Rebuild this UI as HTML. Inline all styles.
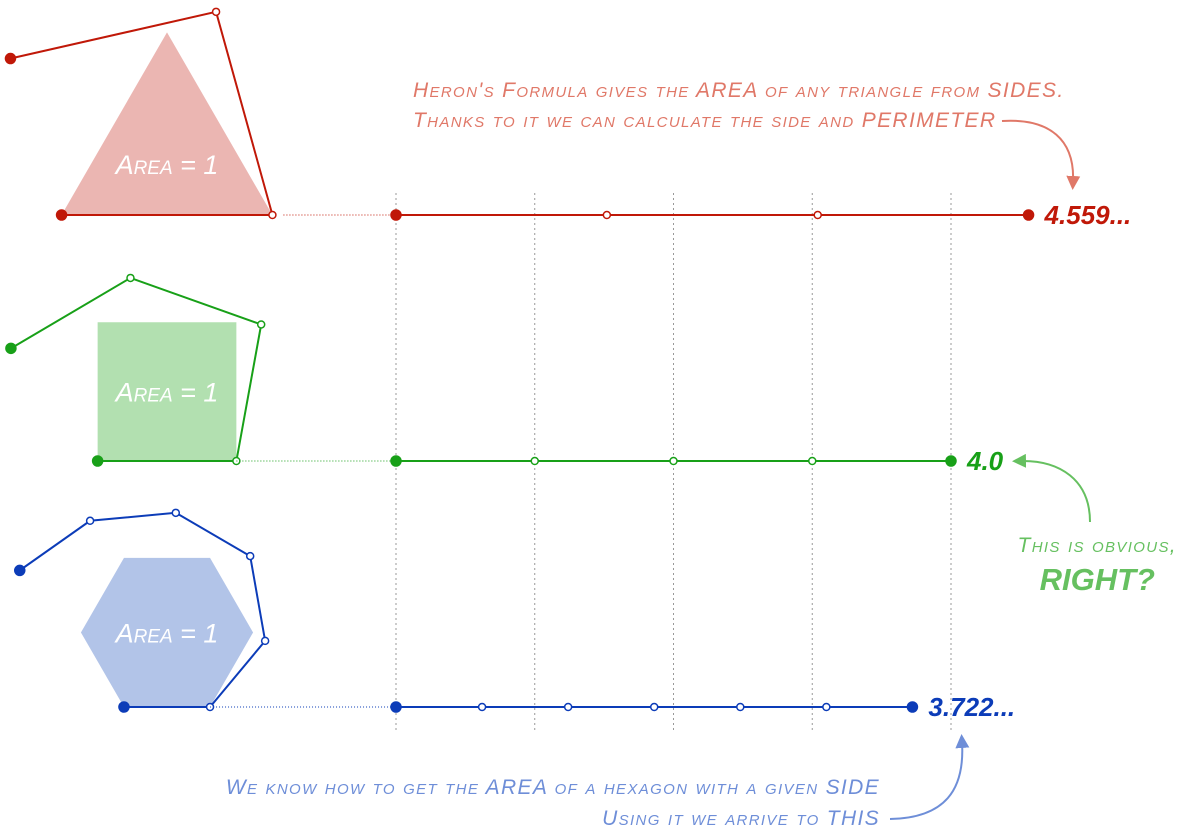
<!DOCTYPE html>
<html><head><meta charset="utf-8"><style>
html,body{margin:0;padding:0;background:#fff;}
svg{display:block;}
text{font-family:"Liberation Sans",sans-serif;font-style:italic;font-variant:small-caps;}
.note{letter-spacing:1.35px;}
</style></head><body>
<svg id="chart" width="1180" height="840" viewBox="0 0 1180 840">
<defs>
<marker id="ahR" markerWidth="7" markerHeight="7" refX="3" refY="3.5" orient="auto"><path d="M0,0 L7,3.5 L0,7 z" fill="#e07868"/></marker>
<marker id="ahG" markerWidth="7" markerHeight="7" refX="3" refY="3.5" orient="auto"><path d="M0,0 L7,3.5 L0,7 z" fill="#66c060"/></marker>
<marker id="ahB" markerWidth="7" markerHeight="7" refX="3" refY="3.5" orient="auto"><path d="M0,0 L7,3.5 L0,7 z" fill="#6e8ed8"/></marker>
</defs>
<g id="grid"></g>
<g id="shapes"></g>
<g id="marks"></g>
<g fill="#e07868" font-size="21" class="note">
<text x="413" y="97" class="note">Heron's Formula gives the AREA of any triangle from SIDES.</text>
<text x="413" y="127" class="note">Thanks to it we can calculate the side and PERIMETER</text>
</g>
<path d="M1002,121 C1050,118 1075,140 1073,182" fill="none" stroke="#e07868" stroke-width="2" marker-end="url(#ahR)"/>
<g fill="#66c060">
<text x="1177" y="552" font-size="21" text-anchor="end" class="note">This is obvious,</text>
<text x="1155" y="590" font-size="31" font-weight="bold" text-anchor="end">RIGHT?</text>
</g>
<path d="M1090,522 C1090,480 1060,460 1020,461" fill="none" stroke="#66c060" stroke-width="2" marker-end="url(#ahG)"/>
<g fill="#6e8ed8" font-size="21">
<text x="880" y="794" text-anchor="end" class="note">We know how to get the AREA of a hexagon with a given SIDE</text>
<text x="880" y="825" text-anchor="end" class="note">Using it we arrive to THIS</text>
</g>
<path d="M890,819 C945,818 965,790 962,742" fill="none" stroke="#6e8ed8" stroke-width="2" marker-end="url(#ahB)"/>
</svg>
<script>
const shapeNames = ["triangle","square","hexagon"];
const sideCounts = [3,4,6];
const perimeterValues = [4.559,4.0,3.722];
const perimeterLabels = ["4.559...","4.0","3.722..."];
const gridTicks = [0,1,2,3,4];

const NS="http://www.w3.org/2000/svg";
const colors=["#c01808","#18a018","#0c3cb8"];
const fills=["#ebb6b2","#b2e0b0","#b2c4e8"];
const rowY=[215,461,707];
const headings=[[0,105.5,192.8],[0,79.7,160.4,210.5],[0,50.2,100,149.8,185.3,215.2]];
const x0=396, unit=138.75;
function xScale(v){return x0+v*unit;}
function mk(tag,attrs,parent){const e=document.createElementNS(NS,tag);for(const k in attrs)e.setAttribute(k,attrs[k]);parent.appendChild(e);return e;}
const grid=document.getElementById('grid'), shapes=document.getElementById('shapes'), marks=document.getElementById('marks');

gridTicks.forEach(t=>{
  const l=mk('line',{x1:xScale(t),x2:xScale(t),y1:193,y2:730,stroke:'#999','stroke-width':1,'stroke-dasharray':'2,3'},grid);
  
  
});

shapeNames.forEach((name,i)=>{
  const n=sideCounts[i], P=perimeterValues[i], s=P/n*unit, y=rowY[i], c=colors[i];
  const cx=167;
  const bx=cx-s/2;
  const poly=[];
  let px=bx, py=y, ang=0;
  for(let k=0;k<n;k++){poly.push([px,py]);px+=s*Math.cos(ang);py-=s*Math.sin(ang);ang+=2*Math.PI/n;}
  const pg=mk('polygon',{points:poly.map(p=>p.join(',')).join(' '),fill:fills[i]},shapes);
  
  
  const my=poly.reduce((a,p)=>a+p[1],0)/n;
  const tx=mk('text',{x:cx,y:my+(i==0?20:10),fill:'#fff','font-size':27,'text-anchor':'middle'},shapes);
  tx.textContent='Area = 1';
  
  
  const un=[[bx,y]];
  let ux=bx,uy=y;
  for(let k=0;k<n;k++){const a=headings[i][k]*Math.PI/180;ux+=s*Math.cos(a);uy-=s*Math.sin(a);un.push([ux,uy]);}
  const pl=mk('polyline',{points:un.map(p=>p.join(',')).join(' '),fill:'none',stroke:c,'stroke-width':2},shapes);
  
  
  un.forEach((p,k)=>{
    const d=mk('circle',{cx:p[0],cy:p[1],r:k==0||k==n?5:3.5,fill:(k==0||k==n)?c:'#fff',stroke:c,'stroke-width':1.5},shapes);
    
    
  });
  const cn=mk('line',{x1:bx+s+(i==0?11:0),x2:x0,y1:y,y2:y,stroke:c,'stroke-width':1,'stroke-dasharray':'1,2'},marks);
  
  
  const ln=mk('line',{x1:xScale(0),x2:xScale(P),y1:y,y2:y,stroke:c,'stroke-width':2},marks);
  
  
  for(let k=0;k<=n;k++){
    const end=(k==0||k==n);
    const d=mk('circle',{cx:xScale(P*k/n),cy:y,r:end?5:3.5,fill:end?c:'#fff',stroke:c,'stroke-width':1.5},marks);
    
    
  }
  const lb=mk('text',{x:xScale(P)+16,y:y+9,fill:c,'font-size':26,'font-weight':'bold'},marks);
  lb.textContent=perimeterLabels[i];
  
  
});
</script>
</body></html>
